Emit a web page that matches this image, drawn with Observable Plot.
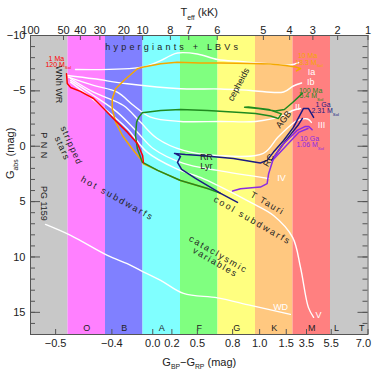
<!DOCTYPE html>
<html><head><meta charset="utf-8">
<script src="https://cdn.jsdelivr.net/npm/d3@7"></script>
<script src="https://cdn.jsdelivr.net/npm/@observablehq/plot@0.6"></script>
<style>body{margin:0;background:#fff}#chart svg{display:block}</style>
</head><body><div id="chart"></div>
<script>
// ---------- data (x in spectral-class position units, y in G_abs mag) ----------
const bandClasses = ["PNN/WR","O","B","A","F","G","K","M","L/T"];
const spectralLetters = ["O","B","A","F","G","K","M","L","T"];
const spectralLetterPos = [1.5,2.5,3.5,4.5,5.5,6.5,7.5,8.16,8.83];
const teffTicks = [100,50,40,30,20,10,8,7,6,5,4,3,2,1];
const teffPos = [0,0.88,1.33,1.85,2.49,2.99,3.73,4.22,4.98,6.21,6.91,7.53,8.19,9.0];
const bpTicks = ["−0.5","−0.4","0.0","0.2","0.5","0.8","1.0","1.5","3.5","5.5","7.0"];
const bpPos = [0.67,2.17,3.26,3.77,4.45,5.39,6.11,6.82,7.36,8.02,9.0];
const magTicks = [-10,-5,0,5,10,15];

const iso1Ma = [[0.96,-6.54],[0.98,-5.67],[1.07,-5.31],[1.33,-4.95],[1.68,-4.31],[1.95,-3.41],[2.21,-2.51],[2.59,-1.25],[2.85,-0.25],[2.99,0.83],[3.01,1.46]];
const iso10Ma = [[4.72,3.81],[4.00,3.09],[3.39,2.18],[3.01,1.58],[2.93,1.13],[2.71,0.23],[2.45,-0.97],[2.27,-2.18],[2.18,-3.38],[2.18,-4.29],[2.27,-5.19],[2.49,-5.94],[2.85,-7.00],[2.98,-7.14],[3.47,-7.45],[3.91,-7.59],[4.53,-7.52],[5.07,-7.52],[5.87,-7.47],[6.40,-7.43],[6.80,-7.29],[7.07,-7.16],[7.20,-7.02],[7.09,-6.80]];
const iso100Ma = [[5.07,4.26],[4.72,3.81],[4.00,3.09],[3.39,2.18],[2.98,1.43],[2.85,0.23],[2.80,-0.97],[2.83,-2.18],[2.89,-2.63],[2.98,-3.02],[3.47,-3.23],[4.00,-3.32],[4.72,-3.23],[5.60,-3.05],[6.00,-2.96],[6.40,-2.73],[6.61,-2.51],[6.69,-2.92],[6.35,-3.32],[5.81,-3.55],[5.71,-3.52],[6.08,-3.41],[6.53,-3.19],[6.77,-3.32],[6.99,-3.95],[7.25,-4.77]];
const iso1Ga = [[5.52,5.07],[5.07,4.26],[4.40,2.91],[4.03,2.09],[3.92,1.46],[4.00,0.92],[3.84,0.65],[4.13,0.74],[4.53,0.83],[5.41,1.10],[6.13,1.51],[6.31,1.28],[6.48,0.53],[6.75,-0.52],[7.01,-1.70],[7.28,-3.41],[7.41,-3.41],[7.55,-2.60]];
const iso1GaB = [[6.43,1.28],[6.69,0.02],[6.96,-1.16],[7.15,-1.97],[7.25,-2.51]];
const iso10Ga = [[5.39,4.05],[5.60,3.84],[6.13,3.69],[6.31,3.38],[6.35,2.48],[6.49,0.98],[6.75,-0.23],[7.11,-1.43],[7.33,-1.79],[7.42,-1.79],[7.51,-1.49]];
const iso10GaB = [[6.45,1.28],[6.80,0.02],[7.15,-1.25],[7.40,-1.60]];

const classIa = [[1.20,-6.93],[2.98,-7.14],[3.47,-7.74],[3.73,-8.19],[3.92,-8.42],[4.45,-8.33],[4.99,-7.83],[5.60,-7.65],[6.32,-7.45],[6.93,-7.34],[7.15,-7.56]];
const classIb = [[0.98,-6.39],[1.69,-6.09],[2.58,-5.64],[4.00,-5.19],[5.07,-5.17],[5.87,-5.04],[6.75,-4.90],[7.01,-5.44],[7.23,-5.71]];
const classII = [[1.01,-6.24],[1.68,-5.49],[2.31,-4.88],[2.75,-3.68],[3.20,-2.63],[4.00,-2.24],[5.07,-2.24],[6.00,-2.24],[6.67,-2.69],[6.99,-3.23],[7.20,-3.41]];
const classIII = [[1.07,-6.12],[1.68,-4.88],[2.48,-3.68],[2.93,-2.18],[3.38,-0.70],[4.08,0.38],[4.96,0.83],[6.21,0.65],[6.59,-0.79],[6.93,-1.88],[7.12,-2.33],[7.39,-2.46],[7.49,-2.15]];
const classIV = [[1.07,-5.94],[1.68,-4.58],[2.31,-3.08],[2.85,-1.27],[3.28,0.23],[4.08,1.55],[4.99,2.18],[6.35,2.91]];
const classV = [[1.07,-5.79],[1.87,-3.68],[2.58,-1.58],[3.11,0.53],[3.87,2.00],[4.53,2.82],[4.99,3.54],[5.87,5.07],[6.48,6.25],[6.99,8.23],[7.20,10.94],[7.41,14.55],[7.55,15.45]];
const whiteDwarfs = [[0.40,7.06],[1.07,8.05],[2.05,9.86],[2.58,10.61],[2.93,11.21],[3.47,12.11],[4.08,13.29],[4.99,13.69],[5.87,14.37],[6.93,15.18]];

// annotations: text, x, y, rotation
const regionLabels = [
  ["stripped",1.09,-0.07,66],["stars",0.85,0.20,66],
  ["hot subdwarfs",2.32,4.71,29],["cool subdwarfs",5.92,6.70,30],
  ["T Tauri",6.32,5.16,30],["cataclysmic",5.01,9.77,30],["variables",4.93,10.49,30],
  ["P N N",0.35,-0.07,90]
];
const plainLabels = [
  ["cepheids",5.55,-5.58,-62],["AGB",6.75,-2.42,-52],["RC",6.35,1.28,-60],
  ["RR",4.69,1.01,0],["Lyr",4.69,1.82,0],["WNh WR",0.75,-5.58,90],["PG 1159",0.35,5.16,90]
];
const classLabels = [["Ia",7.49,-6.71],["Ib",7.47,-5.80],["II",7.12,-3.50],["III",7.76,-1.88],["IV",6.69,2.91],["WD",6.67,14.55],["V",7.68,15.27]];
const trackLabels = [
  ["1 Ma",0.69,-7.92,"1Ma"],["120 M_{Sol}",0.74,-7.38,"1Ma"],
  ["10 Ma",7.39,-8.19,"10Ma"],["18.3 M_{Sol}",7.43,-7.56,"10Ma"],
  ["100 Ma",7.47,-5.05,"100Ma"],["5.4 M_{Sol}",7.49,-4.55,"100Ma"],
  ["1 Ga",7.80,-3.78,"1Ga"],["2.31 M_{Sol}",7.86,-3.17,"1Ga"],
  ["10 Ga",7.44,-0.70,"10Ga"],["1.06 M_{Sol}",7.46,-0.12,"10Ga"]
];

// ---------- styling ----------
const bandColors = ["#c8c8c8","#ff80ff","#8080ff","#80ffff","#80ff80","#ffff80","#ffc880","#ff8080","#c8c8c8"];
const trackColors = {"1Ma":"#ff0000","10Ma":"#f5a800","100Ma":"#1f8a1f","1Ga":"#1a1a82","10Ga":"#8a2be2"};
const W = 374, H = 374;
const mL = 30, mR = 6.5, mT = 35, mB = 40;
const plotW = W - mL - mR, plotH = H - mT - mB;
const ink = "#222", axisInk = "#555";
const fontFamily = "'Liberation Sans', Arial, Helvetica, sans-serif";
const spacing = new Map([["hypergiants + LBVs", 3.2], ["hot subdwarfs", 2], ["cool subdwarfs", 2], ["T Tauri", 1.5],
  ["cataclysmic", 1.8], ["variables", 1.6], ["stripped", 1.2], ["stars", 1.2], ["P N N", 0.5]]);

const xy = {x: d => d[0], y: d => d[1]};
const whiteLine = arr => Plot.line(arr, {...xy, stroke: "#fff", strokeWidth: 1.4, curve: "catmull-rom"});
const track = (arr, key) => Plot.line(arr, {...xy, stroke: trackColors[key], strokeWidth: 1.5});
const fmtMag = d => d < 0 ? "−" + Math.abs(d) : String(d);
const magAll = d3.range(-10, 18);

const marks = [
  Plot.rect(bandClasses, {x1: (d, i) => i, x2: (d, i) => i + 1, fill: (d, i) => bandColors[i]}),
  ...[classIa, classIb, classII, classIII, classIV, classV, whiteDwarfs].map(whiteLine),
  track(iso10Ma, "10Ma"), track(iso100Ma, "100Ma"), track(iso1Ma, "1Ma"),
  track(iso1Ga, "1Ga"), track(iso1GaB, "1Ga"), track(iso10Ga, "10Ga"), track(iso10GaB, "10Ga"),
  Plot.text(["hypergiants + LBVs"], {frameAnchor: "top", dy: 8, dx: -26, fontSize: 9, fill: ink}),
  ...regionLabels.map(([t, x, y, r]) => Plot.text([t], {x: () => x, y: () => y, rotate: r, fontSize: 9, fill: ink})),
  ...plainLabels.map(([t, x, y, r]) => Plot.text([t], {x: () => x, y: () => y, rotate: r, fontSize: 9, fill: ink})),
  Plot.text(classLabels, {x: d => d[1], y: d => d[2], text: d => d[0], fontSize: 9, fill: "#fff"}),
  Plot.text(trackLabels, {x: d => d[1], y: d => d[2], text: d => d[0], fontSize: 7, fill: d => trackColors[d[3]]}),
  Plot.text(spectralLetters, {x: (d, i) => spectralLetterPos[i], frameAnchor: "bottom", dy: -4, fontSize: 9, fill: ink}),
  // ticks
  Plot.tickY(magAll, {y: d => d, insetRight: plotW - 5, stroke: axisInk}),
  Plot.tickY(magTicks, {y: d => d, insetRight: plotW - 10, stroke: axisInk}),
  Plot.tickY(magAll, {y: d => d, insetLeft: plotW - 5, stroke: axisInk}),
  Plot.tickY(magTicks, {y: d => d, insetLeft: plotW - 10, stroke: axisInk}),
  Plot.tickX(teffPos, {x: d => d, insetBottom: plotH - 5, stroke: axisInk}),
  Plot.tickX(bpPos, {x: d => d, insetTop: plotH - 5, stroke: axisInk}),
  Plot.frame({stroke: axisInk}),
  // tick labels
  Plot.text(magTicks, {y: d => d, text: fmtMag, frameAnchor: "left", textAnchor: "end", dx: -5, fontSize: 11, fill: ink}),
  Plot.text(teffTicks, {x: (d, i) => teffPos[i], text: d => String(d), frameAnchor: "top", dy: -9, fontSize: 11, fill: ink}),
  Plot.text(bpTicks.slice(0, -1), {x: (d, i) => bpPos[i], text: d => d, frameAnchor: "bottom", dy: 12, fontSize: 11, fill: ink}),
  Plot.text(bpTicks.slice(-1), {x: () => bpPos[bpPos.length - 1], text: d => d, frameAnchor: "bottom", dy: 12, textAnchor: "end", dx: 3, fontSize: 11, fill: ink}),
  // axis titles
  Plot.text(["T_{eff} (kK)"], {frameAnchor: "top", dy: -27, fontSize: 11, fill: ink}),
  Plot.text(["G_{BP}−G_{RP} (mag)"], {frameAnchor: "bottom", dy: 31, fontSize: 11, fill: ink}),
  Plot.text(["G_{abs} (mag)"], {frameAnchor: "left", dx: -20, dy: -6, rotate: -90, fontSize: 11, fill: ink})
];

const chart = Plot.plot({
  width: W, height: H,
  marginLeft: mL, marginRight: mR, marginTop: mT, marginBottom: mB,
  x: {domain: [0, 9], axis: null},
  y: {domain: [-10, 17], reverse: true, axis: null},
  color: {type: "identity"},
  style: {fontFamily, fontSize: "11px", color: ink, background: "#fff"},
  marks
});
document.getElementById("chart").append(chart);

// letter spacing for the spaced region labels
d3.select(chart).selectAll("text").each(function () {
  const s = spacing.get(this.textContent);
  if (s != null) this.setAttribute("letter-spacing", s);
});

// subscripts written as _{...}
d3.select(chart).selectAll("text").each(function () {
  const t = this;
  if (t.querySelector("tspan")) return;
  const s = t.textContent;
  if (!s.includes("_{")) return;
  const fs = parseFloat(getComputedStyle(t).fontSize) || 10;
  const parts = s.split(/_\{([^}]*)\}/);
  t.textContent = "";
  let shift = 0;
  parts.forEach((p, i) => {
    if (!p) return;
    const isSub = i % 2 === 1;
    const want = isSub ? fs * 0.35 : 0;
    const ts = d3.select(t).append("tspan").text(p);
    if (isSub) ts.attr("font-size", fs * 0.62);
    if (want !== shift) ts.attr("dy", want - shift);
    shift = want;
  });
});
</script></body></html>
